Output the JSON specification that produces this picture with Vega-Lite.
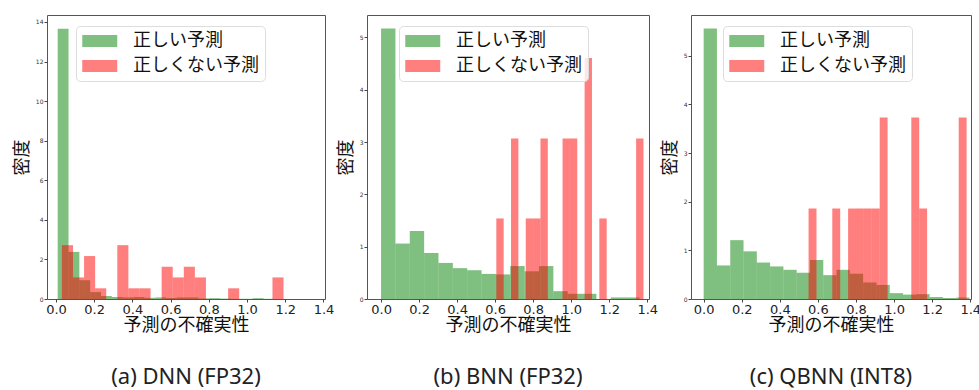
{
  "$schema": "https://vega.github.io/schema/vega-lite/v6.json",
  "padding": {"left": 12, "top": 14, "right": 0, "bottom": 4},
  "bounds": "flush",
  "spacing": 42,
  "datasets": {
    "a": [
      {"s": "正しい予測", "x0": 0.009, "x1": 0.0657, "d": 13.66},
      {"s": "正しい予測", "x0": 0.0657, "x1": 0.1224, "d": 2.38},
      {"s": "正しい予測", "x0": 0.1224, "x1": 0.1791, "d": 0.95},
      {"s": "正しい予測", "x0": 0.1791, "x1": 0.2358, "d": 0.35},
      {"s": "正しい予測", "x0": 0.2358, "x1": 0.2925, "d": 0.15},
      {"s": "正しい予測", "x0": 0.2925, "x1": 0.3492, "d": 0.1},
      {"s": "正しい予測", "x0": 0.3492, "x1": 0.4059, "d": 0.08},
      {"s": "正しい予測", "x0": 0.4059, "x1": 0.4626, "d": 0.1},
      {"s": "正しい予測", "x0": 0.4626, "x1": 0.5193, "d": 0.06},
      {"s": "正しい予測", "x0": 0.5193, "x1": 0.576, "d": 0.08},
      {"s": "正しい予測", "x0": 0.576, "x1": 0.6327, "d": 0.05},
      {"s": "正しい予測", "x0": 0.6327, "x1": 0.6894, "d": 0.08},
      {"s": "正しい予測", "x0": 0.6894, "x1": 0.7461, "d": 0.08},
      {"s": "正しい予測", "x0": 0.7461, "x1": 0.8028, "d": 0.03},
      {"s": "正しい予測", "x0": 0.8028, "x1": 0.8595, "d": 0.04},
      {"s": "正しい予測", "x0": 0.8595, "x1": 0.9162, "d": 0.02},
      {"s": "正しい予測", "x0": 0.9162, "x1": 0.9729, "d": 0.01},
      {"s": "正しい予測", "x0": 0.9729, "x1": 1.0296, "d": 0.01},
      {"s": "正しい予測", "x0": 1.0296, "x1": 1.0863, "d": 0.04},
      {"s": "正しい予測", "x0": 1.0863, "x1": 1.143, "d": 0.01},
      {"s": "正しくない予測", "x0": 0.031, "x1": 0.089, "d": 2.72},
      {"s": "正しくない予測", "x0": 0.089, "x1": 0.147, "d": 1.09},
      {"s": "正しくない予測", "x0": 0.147, "x1": 0.205, "d": 2.17},
      {"s": "正しくない予測", "x0": 0.205, "x1": 0.263, "d": 0.54},
      {"s": "正しくない予測", "x0": 0.321, "x1": 0.379, "d": 2.72},
      {"s": "正しくない予測", "x0": 0.379, "x1": 0.437, "d": 0.54},
      {"s": "正しくない予測", "x0": 0.437, "x1": 0.495, "d": 0.54},
      {"s": "正しくない予測", "x0": 0.553, "x1": 0.611, "d": 1.63},
      {"s": "正しくない予測", "x0": 0.611, "x1": 0.669, "d": 1.09},
      {"s": "正しくない予測", "x0": 0.669, "x1": 0.727, "d": 1.63},
      {"s": "正しくない予測", "x0": 0.727, "x1": 0.785, "d": 1.09},
      {"s": "正しくない予測", "x0": 0.901, "x1": 0.959, "d": 0.54},
      {"s": "正しくない予測", "x0": 1.133, "x1": 1.191, "d": 1.09}
    ],
    "b": [
      {"s": "正しい予測", "x0": 0.0, "x1": 0.0755, "d": 5.17},
      {"s": "正しい予測", "x0": 0.0755, "x1": 0.151, "d": 1.06},
      {"s": "正しい予測", "x0": 0.151, "x1": 0.2265, "d": 1.3},
      {"s": "正しい予測", "x0": 0.2265, "x1": 0.302, "d": 0.88},
      {"s": "正しい予測", "x0": 0.302, "x1": 0.3775, "d": 0.69},
      {"s": "正しい予測", "x0": 0.3775, "x1": 0.453, "d": 0.59},
      {"s": "正しい予測", "x0": 0.453, "x1": 0.5285, "d": 0.55},
      {"s": "正しい予測", "x0": 0.5285, "x1": 0.604, "d": 0.48},
      {"s": "正しい予測", "x0": 0.604, "x1": 0.6795, "d": 0.47},
      {"s": "正しい予測", "x0": 0.6795, "x1": 0.755, "d": 0.63},
      {"s": "正しい予測", "x0": 0.755, "x1": 0.8305, "d": 0.53},
      {"s": "正しい予測", "x0": 0.8305, "x1": 0.906, "d": 0.63},
      {"s": "正しい予測", "x0": 0.906, "x1": 0.9815, "d": 0.15},
      {"s": "正しい予測", "x0": 0.9815, "x1": 1.057, "d": 0.1},
      {"s": "正しい予測", "x0": 1.057, "x1": 1.1325, "d": 0.1},
      {"s": "正しい予測", "x0": 1.208, "x1": 1.2835, "d": 0.03},
      {"s": "正しい予測", "x0": 1.2835, "x1": 1.359, "d": 0.03},
      {"s": "正しくない予測", "x0": 0.606, "x1": 0.6447, "d": 1.54},
      {"s": "正しくない予測", "x0": 0.6834, "x1": 0.7221, "d": 3.07},
      {"s": "正しくない予測", "x0": 0.7608, "x1": 0.7995, "d": 1.54},
      {"s": "正しくない予測", "x0": 0.7995, "x1": 0.8382, "d": 1.54},
      {"s": "正しくない予測", "x0": 0.8382, "x1": 0.8769, "d": 3.07},
      {"s": "正しくない予測", "x0": 0.9543, "x1": 0.993, "d": 3.07},
      {"s": "正しくない予測", "x0": 0.993, "x1": 1.0317, "d": 3.07},
      {"s": "正しくない予測", "x0": 1.0704, "x1": 1.1091, "d": 4.61},
      {"s": "正しくない予測", "x0": 1.1478, "x1": 1.1865, "d": 1.54},
      {"s": "正しくない予測", "x0": 1.3413, "x1": 1.38, "d": 3.07}
    ],
    "c": [
      {"s": "正しい予測", "x0": 0.0, "x1": 0.0698, "d": 5.56},
      {"s": "正しい予測", "x0": 0.0698, "x1": 0.1396, "d": 0.69},
      {"s": "正しい予測", "x0": 0.1396, "x1": 0.2094, "d": 1.21},
      {"s": "正しい予測", "x0": 0.2094, "x1": 0.2792, "d": 0.98},
      {"s": "正しい予測", "x0": 0.2792, "x1": 0.349, "d": 0.75},
      {"s": "正しい予測", "x0": 0.349, "x1": 0.4188, "d": 0.67},
      {"s": "正しい予測", "x0": 0.4188, "x1": 0.4886, "d": 0.6},
      {"s": "正しい予測", "x0": 0.4886, "x1": 0.5584, "d": 0.54},
      {"s": "正しい予測", "x0": 0.5584, "x1": 0.6282, "d": 0.8},
      {"s": "正しい予測", "x0": 0.6282, "x1": 0.698, "d": 0.49},
      {"s": "正しい予測", "x0": 0.698, "x1": 0.7678, "d": 0.6},
      {"s": "正しい予測", "x0": 0.7678, "x1": 0.8376, "d": 0.52},
      {"s": "正しい予測", "x0": 0.8376, "x1": 0.9074, "d": 0.34},
      {"s": "正しい予測", "x0": 0.9074, "x1": 0.9772, "d": 0.29},
      {"s": "正しい予測", "x0": 0.9772, "x1": 1.047, "d": 0.12},
      {"s": "正しい予測", "x0": 1.047, "x1": 1.1168, "d": 0.09},
      {"s": "正しい予測", "x0": 1.1168, "x1": 1.1866, "d": 0.1},
      {"s": "正しい予測", "x0": 1.1866, "x1": 1.2564, "d": 0.04},
      {"s": "正しい予測", "x0": 1.2564, "x1": 1.3262, "d": 0.02},
      {"s": "正しい予測", "x0": 1.3262, "x1": 1.396, "d": 0.03},
      {"s": "正しくない予測", "x0": 0.551, "x1": 0.5925, "d": 1.86},
      {"s": "正しくない予測", "x0": 0.6755, "x1": 0.717, "d": 1.86},
      {"s": "正しくない予測", "x0": 0.7585, "x1": 0.8, "d": 1.86},
      {"s": "正しくない予測", "x0": 0.8, "x1": 0.8415, "d": 1.86},
      {"s": "正しくない予測", "x0": 0.8415, "x1": 0.883, "d": 1.86},
      {"s": "正しくない予測", "x0": 0.883, "x1": 0.9245, "d": 1.86},
      {"s": "正しくない予測", "x0": 0.9245, "x1": 0.966, "d": 3.73},
      {"s": "正しくない予測", "x0": 1.0905, "x1": 1.132, "d": 3.73},
      {"s": "正しくない予測", "x0": 1.132, "x1": 1.1735, "d": 1.86},
      {"s": "正しくない予測", "x0": 1.3395, "x1": 1.381, "d": 3.73}
    ]
  },
  "hconcat": [
    {
      "width": 278, "height": 284,
      "data": {"name": "a"},
      "title": {"text": "(a) DNN (FP32)"},
      "mark": {"type": "rect", "opacity": 0.5},
      "encoding": {
        "x": {"field": "x0", "type": "quantitative", "scale": {"domain": [-0.047, 1.408], "nice": false, "zero": false}, "axis": {"values": [0, 0.2, 0.4, 0.6, 0.8, 1.0, 1.2, 1.4], "format": ".1f", "title": "予測の不確実性"}},
        "x2": {"field": "x1"},
        "y": {"field": "d", "type": "quantitative", "scale": {"domain": [0, 14.35], "nice": false}, "axis": {"values": [0, 2, 4, 6, 8, 10, 12, 14], "title": "密度"}},
        "y2": {"datum": 0},
        "color": {"field": "s", "type": "nominal", "scale": {"domain": ["正しい予測", "正しくない予測"], "range": ["#008000", "#ff0000"]}, "legend": {"legendX": 29, "legendY": 11}}
      }
    },
    {
      "width": 282, "height": 284,
      "data": {"name": "b"},
      "title": {"text": "(b) BNN (FP32)"},
      "mark": {"type": "rect", "opacity": 0.5},
      "encoding": {
        "x": {"field": "x0", "type": "quantitative", "scale": {"domain": [-0.074, 1.409], "nice": false, "zero": false}, "axis": {"values": [0, 0.2, 0.4, 0.6, 0.8, 1.0, 1.2, 1.4], "format": ".1f", "title": "予測の不確実性"}},
        "x2": {"field": "x1"},
        "y": {"field": "d", "type": "quantitative", "scale": {"domain": [0, 5.43], "nice": false}, "axis": {"values": [0, 1, 2, 3, 4, 5], "title": "密度"}},
        "y2": {"datum": 0},
        "color": {"field": "s", "type": "nominal", "scale": {"domain": ["正しい予測", "正しくない予測"], "range": ["#008000", "#ff0000"]}, "legend": {"legendX": 32, "legendY": 11}}
      }
    },
    {
      "width": 280, "height": 284,
      "data": {"name": "c"},
      "title": {"text": "(c) QBNN (INT8)"},
      "mark": {"type": "rect", "opacity": 0.5},
      "encoding": {
        "x": {"field": "x0", "type": "quantitative", "scale": {"domain": [-0.0665, 1.404], "nice": false, "zero": false}, "axis": {"values": [0, 0.2, 0.4, 0.6, 0.8, 1.0, 1.2, 1.4], "format": ".1f", "title": "予測の不確実性"}},
        "x2": {"field": "x1"},
        "y": {"field": "d", "type": "quantitative", "scale": {"domain": [0, 5.84], "nice": false}, "axis": {"values": [0, 1, 2, 3, 4, 5], "title": "密度"}},
        "y2": {"datum": 0},
        "color": {"field": "s", "type": "nominal", "scale": {"domain": ["正しい予測", "正しくない予測"], "range": ["#008000", "#ff0000"]}, "legend": {"legendX": 32, "legendY": 11}}
      }
    }
  ],
  "resolve": {"scale": {"color": "independent", "x": "independent", "y": "independent"}, "legend": {"color": "independent"}},
  "config": {
    "view": {"stroke": "#555", "strokeWidth": 1},
    "font": "Noto Sans CJK JP",
    "title": {"orient": "bottom", "anchor": "middle", "font": "Noto Sans", "fontSize": 22, "fontWeight": "normal", "color": "#222", "offset": 33},
    "axis": {"grid": false, "domain": false, "tickSize": 3, "tickColor": "#444", "labelFont": "DejaVu Sans", "titleFont": "Noto Sans CJK JP", "titleFontSize": 18, "titleFontWeight": "normal", "titleColor": "#111", "labelFlush": false, "labelOverlap": false, "labelBound": false},
    "axisX": {"labelFontSize": 13, "labelColor": "#222", "labelPadding": 1, "titlePadding": 0},
    "axisY": {"labelFontSize": 6, "labelColor": "#333", "labelPadding": 1, "titlePadding": 4},
    "legend": {"orient": "none", "title": null, "labelFont": "Noto Sans CJK JP", "labelFontSize": 18, "labelColor": "#111", "symbolType": "M-1,-0.68H3V0.68H-1Z", "symbolSize": 306, "symbolStrokeWidth": 0, "symbolOpacity": 0.5, "labelOffset": 33, "padding": 6, "rowPadding": 7, "strokeColor": "#dddddd", "fillColor": "rgba(255,255,255,0.8)", "cornerRadius": 4}
  }
}
